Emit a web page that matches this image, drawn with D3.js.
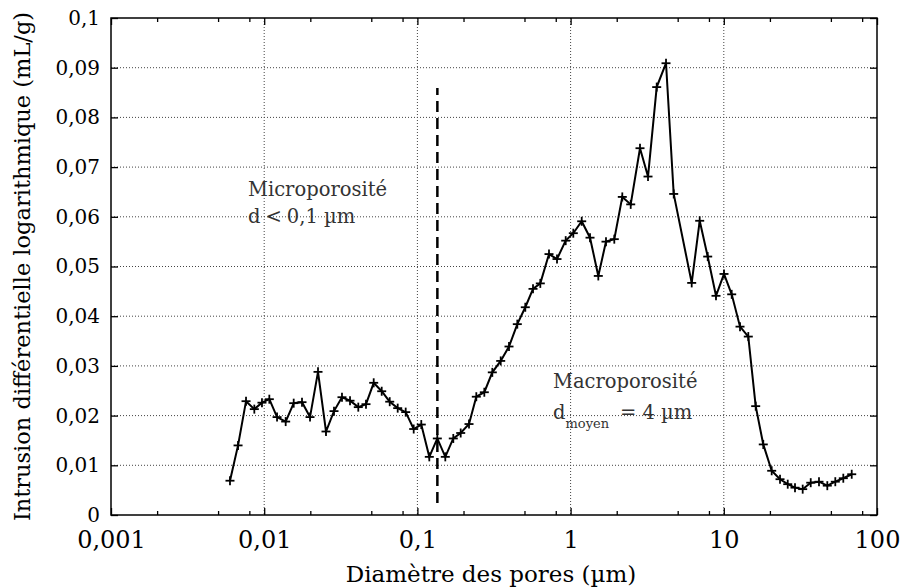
<!DOCTYPE html>
<html><head><meta charset="utf-8">
<script src="https://cdn.jsdelivr.net/npm/d3@7"></script>
<style>body{margin:0;background:#fff;} svg{display:block;} svg text{font-family:"DejaVu Serif","Liberation Serif",serif;}</style>
</head><body>
<svg id="chart" width="907" height="588"></svg>
<script>
const diameters = [0.00598,0.00675,0.00761,0.00862,0.00967,0.0108,0.01213,0.01381,0.01558,0.01765,
0.01991,0.02245,0.02532,0.02855,0.03219,0.03632,0.04113,0.04618,0.05185,0.05848,
0.06596,0.07437,0.08387,0.09459,0.106,0.1196,0.1349,0.1521,0.1715,0.1917,
0.2172,0.2424,0.2734,0.3083,0.3498,0.3962,0.4489,0.5062,0.5684,0.6343,
0.7228,0.8152,0.929,1.0416,1.1816,1.3389,1.5164,1.7024,1.9286,2.175,
2.468,2.838,3.201,3.648,4.196,4.71,6.173,6.961,7.851,8.894,
10.03,11.26,12.76,14.45,16.15,18.1,20.54,23.28,26.14,29.16,
32.73,36.93,41.82,47.38,53.43,60.26,68.39];
const intrusion = [0.0069,0.0140,0.0229,0.0213,0.0226,0.0233,0.0197,0.0188,0.0225,0.0227,
0.0197,0.0288,0.0168,0.0209,0.0237,0.0230,0.0217,0.0223,0.0266,0.0249,
0.0228,0.0215,0.0207,0.0173,0.0182,0.0117,0.0154,0.0117,0.0154,0.0165,
0.0183,0.0238,0.0247,0.0287,0.0310,0.0339,0.0384,0.0418,0.0455,0.0466,
0.0525,0.0515,0.0552,0.0567,0.0591,0.0558,0.0481,0.0550,0.0555,0.0640,
0.0625,0.0738,0.0681,0.0861,0.0909,0.0646,0.0467,0.0592,0.0520,0.0441,
0.0485,0.0444,0.0379,0.0359,0.0219,0.0142,0.0089,0.0072,0.0062,0.0055,
0.0052,0.0065,0.0067,0.0059,0.0067,0.0074,0.0082];
const xTicks = [0.001,0.01,0.1,1,10,100];
const xTickLabels = ["0,001","0,01","0,1","1","10","100"];
const yTicks = [0,0.01,0.02,0.03,0.04,0.05,0.06,0.07,0.08,0.09,0.1];
const yTickLabels = ["0","0,01","0,02","0,03","0,04","0,05","0,06","0,07","0,08","0,09","0,1"];
const minorMultipliers = [2,5,8];
const separatorX = 0.135;
const separatorY = [0.0024,0.0859];
const xTitle = "Diamètre des pores (µm)";
const yTitle = "Intrusion différentielle logarithmique (mL/g)";

const svg = d3.select("#chart");
const L=111, R=877, T=18, B=515;
const x = d3.scaleLog().domain([0.001,100]).range([L,R]);
const y = d3.scaleLinear().domain([0,0.1]).range([B,T]);

const minorTicks = [];
xTicks.slice(0,-1).forEach(t => minorMultipliers.forEach(m => minorTicks.push(t*m)));

// grid
const grid = svg.append("g").attr("stroke","#444").attr("stroke-width",1).attr("stroke-dasharray","1,2");
yTicks.slice(1,-1).forEach(v => grid.append("line").attr("x1",L).attr("x2",R).attr("y1",y(v)).attr("y2",y(v)));
xTicks.slice(1,-1).forEach(v => grid.append("line").attr("x1",x(v)).attr("x2",x(v)).attr("y1",T).attr("y2",B));

// axes
const fmtX = d => xTickLabels[xTicks.indexOf(d)];
const fmtY = d => yTickLabels[yTicks.findIndex(t => Math.abs(t-d)<1e-9)];
const gx = svg.append("g").attr("transform",`translate(0,${B})`)
  .call(d3.axisBottom(x).tickValues(xTicks).tickFormat(fmtX).tickSizeInner(-7).tickSizeOuter(0).tickPadding(16));
const gxm = svg.append("g").attr("transform",`translate(0,${B})`)
  .call(d3.axisBottom(x).tickValues(minorTicks).tickFormat("").tickSizeInner(-4).tickSizeOuter(0));
const gxt = svg.append("g").attr("transform",`translate(0,${T})`)
  .call(d3.axisTop(x).tickValues(xTicks).tickFormat("").tickSizeInner(-7).tickSizeOuter(0));
const gxtm = svg.append("g").attr("transform",`translate(0,${T})`)
  .call(d3.axisTop(x).tickValues(minorTicks).tickFormat("").tickSizeInner(-4).tickSizeOuter(0));
const gy = svg.append("g").attr("transform",`translate(${L},0)`)
  .call(d3.axisLeft(y).tickValues(yTicks).tickFormat(fmtY).tickSizeInner(-7).tickSizeOuter(0).tickPadding(11));
const gyr = svg.append("g").attr("transform",`translate(${R},0)`)
  .call(d3.axisRight(y).tickValues(yTicks).tickFormat("").tickSizeInner(-7).tickSizeOuter(0));
[gx,gxm,gxt,gxtm,gy,gyr].forEach(g => {
  g.attr("font-family",null);
  g.select(".domain").remove();
  g.selectAll("line").attr("stroke","#000").attr("stroke-width",1.3);
  g.selectAll("text").attr("fill","#000");
});
gx.selectAll("text").attr("font-size",24).attr("dy","0.71em");
gy.selectAll("text").attr("font-size",20);

svg.append("rect").attr("x",L).attr("y",T).attr("width",R-L).attr("height",B-T)
  .attr("fill","none").attr("stroke","#000").attr("stroke-width",1.5);

// separator
svg.append("line").attr("x1",x(separatorX)).attr("x2",x(separatorX))
  .attr("y1",y(separatorY[0])).attr("y2",y(separatorY[1]))
  .attr("stroke","#000").attr("stroke-width",2.5).attr("stroke-dasharray","11,6");

// curve
const pts = diameters.map((d,i)=>[d,intrusion[i]]);
svg.append("path").datum(pts)
  .attr("d", d3.line().x(d=>x(d[0])).y(d=>y(d[1])))
  .attr("fill","none").attr("stroke","#000").attr("stroke-width",2);
const mk = svg.append("g").attr("stroke","#000").attr("stroke-width",1.8);
pts.forEach(p => {
  const cx = x(p[0]), cy = y(p[1]);
  mk.append("line").attr("x1",cx-4.5).attr("x2",cx+4.5).attr("y1",cy).attr("y2",cy);
  mk.append("line").attr("x1",cx).attr("x2",cx).attr("y1",cy-4.5).attr("y2",cy+4.5);
});

// annotations
const ann = svg.append("g").attr("font-size",19.5).attr("fill","#333");
ann.append("text").attr("x",248).attr("y",196).text("Microporosité");
const t1 = ann.append("text").attr("x",248).attr("y",223);
t1.append("tspan").text("d");
t1.append("tspan").attr("dx",5).text("<");
t1.append("tspan").attr("dx",5).text("0,1 µm");
ann.append("text").attr("x",553).attr("y",388).text("Macroporosité");
const t2 = ann.append("text").attr("x",553).attr("y",419);
t2.append("tspan").text("d");
t2.append("tspan").attr("font-size",13).attr("dy",9).text("moyen");
t2.append("tspan").attr("dy",-9).attr("dx",11).text("=");
t2.append("tspan").attr("dx",6).text("4 µm");

// titles
svg.append("text").attr("x",(L+R)/2 - 3).attr("y",582).attr("text-anchor","middle")
  .attr("font-size",23).attr("fill","#000").text(xTitle);
svg.append("text").attr("transform",`translate(30,${(T+B)/2}) rotate(-90)`).attr("text-anchor","middle")
  .attr("font-size",22.5).attr("fill","#000").text(yTitle);
</script>
</body></html>
